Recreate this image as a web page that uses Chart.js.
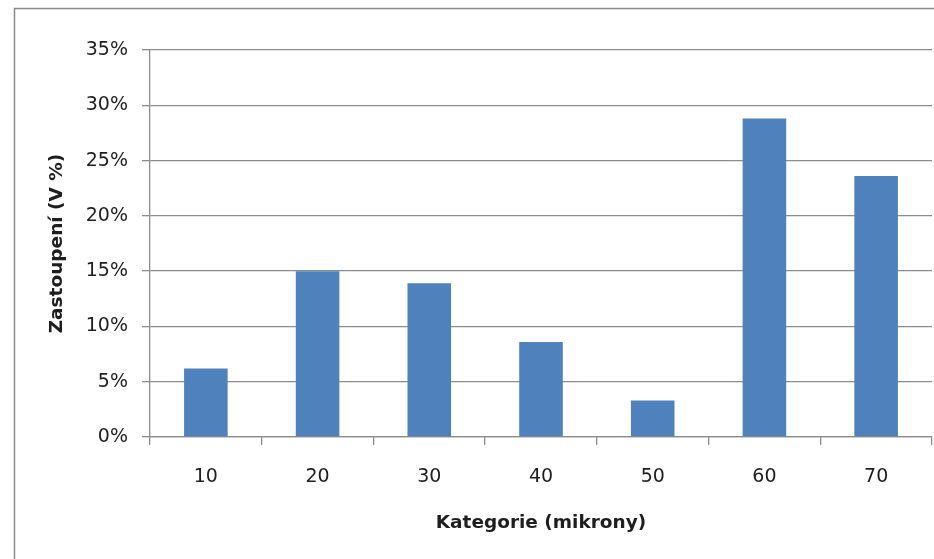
<!DOCTYPE html>
<html>
<head>
<meta charset="utf-8">
<script src="https://cdn.jsdelivr.net/npm/chart.js@4/dist/chart.umd.min.js"></script>
<style>
  html, body { margin: 0; padding: 0; background: #fff; }
  #wrap { width: 934px; height: 559px; position: relative; }
</style>
</head>
<body>
<div id="wrap"><canvas id="c" width="934" height="559"></canvas></div>
<script>
// Particle size categories (microns) and their volume share in percent
const categories = ['10', '20', '30', '40', '50', '60', '70'];
const shares = [6.2, 15.0, 13.9, 8.6, 3.3, 28.8, 23.6];
const yTicks = [0, 5, 10, 15, 20, 25, 30, 35];

const FONT = '"DejaVu Sans", sans-serif';
const GRID = '#8c8c8c';
const TEXT = '#1e1e1e';

// Frame around the whole chart area
const framePlugin = {
  id: 'frame',
  beforeDraw(chart) {
    const ctx = chart.ctx;
    ctx.save();
    ctx.fillStyle = '#fff';
    ctx.fillRect(0, 0, chart.width, chart.height);
    ctx.strokeStyle = '#8a8a8a';
    ctx.lineWidth = 1.5;
    ctx.strokeRect(14.5, 8.5, 1000, 1000);
    ctx.restore();
  }
};

new Chart(document.getElementById('c'), {
  type: 'bar',
  data: {
    labels: categories,
    datasets: [{
      data: shares,
      backgroundColor: '#4f81bd',
      borderWidth: 0,
      categoryPercentage: 1.0,
      barPercentage: 0.39
    }]
  },
  options: {
    responsive: false,
    animation: false,
    layout: { padding: { top: 50, right: 2, left: 0, bottom: 0 } },
    plugins: { legend: { display: false }, tooltip: { enabled: false } },
    scales: {
      x: {
        grid: {
          display: true,
          offset: true,
          drawOnChartArea: false,
          drawTicks: true,
          tickLength: 8,
          color: GRID,
          lineWidth: 1.3
        },
        border: { display: true, color: GRID, width: 1.3 },
        ticks: {
          color: TEXT,
          font: { family: FONT, size: 19 },
          padding: 21,
          maxRotation: 0
        },
        title: {
          display: true,
          text: 'Kategorie (mikrony)',
          color: TEXT,
          font: { family: FONT, size: 18.5, weight: 'bold' },
          padding: { top: 0, bottom: 25 }
        },
        afterFit(scale) { scale.height = 122; }
      },
      y: {
        min: 0,
        max: 35,
        afterBuildTicks(scale) { scale.ticks = yTicks.map(v => ({ value: v })); },
        grid: {
          color: GRID,
          lineWidth: 1.3,
          tickLength: 8
        },
        border: { display: true, color: GRID, width: 1.3 },
        ticks: {
          color: TEXT,
          font: { family: FONT, size: 19 },
          padding: 14,
          callback: v => v + '%'
        },
        title: {
          display: true,
          text: 'Zastoupení (V %)',
          color: TEXT,
          font: { family: FONT, size: 18.5, weight: 'bold' },
          padding: { top: 46, bottom: 0 }
        },
        afterFit(scale) { scale.width = 150; }
      }
    }
  },
  plugins: [framePlugin]
});
</script>
</body>
</html>
